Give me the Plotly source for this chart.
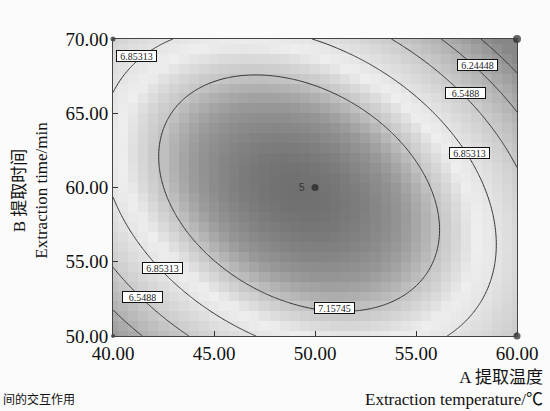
import numpy as np
import plotly.graph_objects as go

# Fitted quadratic response-surface coefficients (coded A=(T-50)/10, B=(t-60)/10),
# estimated from the contour crossings
b0, b1, b2, b12, b11, b22 = 7.4643, -0.1275, -0.0723, -0.3869, -0.7166, -0.5462

# factor levels
A_levels = [40, 45, 50, 55, 60]
B_levels = [50, 55, 60, 65, 70]

# contour levels shown
contour_levels = [5.94016, 6.24448, 6.5488, 6.85313, 7.15745]

# design points
design_A = [40, 60, 60, 40, 50]
design_B = [70, 70, 50, 50, 60]

# contour label texts
lab_text = ['6.85313', '6.24448', '6.5488', '6.85313', '6.85313', '6.5488', '7.15745']


def model(A, B):
    x = (A - 50) / 10
    y = (B - 60) / 10
    return b0 + b1 * x + b2 * y + b12 * x * y + b11 * x ** 2 + b22 * y ** 2


Ac = np.linspace(40, 60, 41)
Bc = np.linspace(50, 70, 31)
Zc = model(Ac[None, :], Bc[:, None])
Af = np.linspace(40, 60, 201)
Bf = np.linspace(50, 70, 201)
Zf = model(Af[None, :], Bf[:, None])

zmin, zmax = 5.8, 7.47


def f(v):
    return (v - zmin) / (zmax - zmin)


cs = [[0, 'rgb(135,135,135)'], [f(6.24), 'rgb(176,176,176)'], [f(6.55), 'rgb(203,203,203)'],
      [f(6.85), 'rgb(228,228,228)'], [f(6.97), 'rgb(238,238,238)'], [f(7.16), 'rgb(196,196,196)'],
      [f(7.3), 'rgb(152,152,152)'], [1, 'rgb(112,112,112)']]

fig = go.Figure()
fig.add_trace(go.Heatmap(x=Ac, y=Bc, z=Zc, colorscale=cs, zmin=zmin, zmax=zmax,
                         showscale=False, zsmooth=False, hoverinfo='skip'))
step = contour_levels[1] - contour_levels[0]
fig.add_trace(go.Contour(x=Af, y=Bf, z=Zf,
                         contours=dict(coloring='none', start=contour_levels[0],
                                       end=contour_levels[-1] + step / 4, size=step),
                         line=dict(color='#333', width=1), showscale=False, hoverinfo='skip'))
fig.add_trace(go.Scatter(x=design_A, y=design_B, mode='markers',
                         marker=dict(color='#222', size=[5, 8, 7, 4, 7], line=dict(width=0)),
                         cliponaxis=False, hoverinfo='skip'))

serif = 'Liberation Serif, Noto Sans CJK SC'
lab_A = [41.15, 58.06, 57.45, 57.65, 42.43, 41.45, 50.95]
lab_B = [68.83, 68.27, 66.36, 62.31, 54.56, 52.65, 51.87]
ann = []
for t, a, b in zip(lab_text, lab_A, lab_B):
    ann.append(dict(x=a, y=b, text=t, showarrow=False, font=dict(family=serif, size=10, color='#222'),
                    bgcolor='white', bordercolor='#111', borderwidth=1, borderpad=0, width=39, height=10))
ann.append(dict(x=49.6, y=60, text='5', showarrow=False, xanchor='right',
                font=dict(family='Liberation Sans', size=10, color='#333')))
ann.append(dict(xref='paper', yref='paper', x=1.07, y=-0.10, xanchor='right', yanchor='top',
                text='A 提取温度<br>Extraction temperature/℃', align='right', showarrow=False,
                font=dict(family=serif, size=17, color='#111')))
ann.append(dict(xref='paper', yref='paper', x=-0.205, y=0.49, xanchor='center', yanchor='middle',
                textangle=-90, text='B 提取时间<br>Extraction time/min', showarrow=False,
                font=dict(family=serif, size=17, color='#111')))
ann.append(dict(xref='paper', yref='paper', x=-0.278, y=-0.246, xanchor='left', yanchor='bottom',
                text='间的交互作用', showarrow=False, font=dict(family='Noto Sans CJK SC', size=12, color='#111')))

ax = dict(showgrid=False, zeroline=False, showline=True, mirror=True, linecolor='#444', linewidth=1,
          ticks='inside', ticklen=5, tickcolor='#333', tickformat='.2f',
          tickfont=dict(family=serif, size=19, color='#111'))
fig.update_layout(width=550, height=411, margin=dict(l=113, r=31, t=39, b=75),
                  paper_bgcolor='#fbfbfb', plot_bgcolor='white', showlegend=False,
                  xaxis=dict(range=[40, 60], tickvals=A_levels, **ax),
                  yaxis=dict(range=[50, 70], tickvals=B_levels, **ax),
                  annotations=ann)
fig.write_html('out.html')
